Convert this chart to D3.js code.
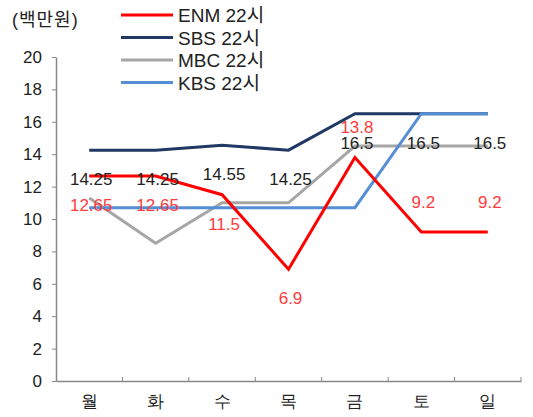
<!DOCTYPE html>
<html>
<head>
<meta charset="utf-8">
<script src="https://cdn.jsdelivr.net/npm/d3@7"></script>
<style>
  body { margin: 0; background: #fff; }
  svg { font-family: "Liberation Sans", Arial, "Noto Sans CJK KR", sans-serif; }
</style>
</head>
<body>
<div id="chart"></div>
<script>
const days = ['월', '화', '수', '목', '금', '토', '일']
const seriesNames = ['ENM 22시', 'SBS 22시', 'MBC 22시', 'KBS 22시']
const enm = [12.65, 12.65, 11.5, 6.9, 13.8, 9.2, 9.2]
const sbs = [14.25, 14.25, 14.55, 14.25, 16.5, 16.5, 16.5]
const mbc = [11.3, 8.5, 11.0, 11.0, 14.5, 14.5, 14.5]
const kbs = [10.7, 10.7, 10.7, 10.7, 10.7, 16.5, 16.5]
const yTicks = [0, 2, 4, 6, 8, 10, 12, 14, 16, 18, 20]

const width = 533
const height = 417
const margin = { top: 57, right: 12, bottom: 36, left: 56 }
const innerWidth = width - margin.left - margin.right
const innerHeight = height - margin.top - margin.bottom

const colors = { 'ENM 22시': '#ff0000', 'SBS 22시': '#1f3864', 'MBC 22시': '#a6a6a6', 'KBS 22시': '#558ed5' }
const values = { 'ENM 22시': enm, 'SBS 22시': sbs, 'MBC 22시': mbc, 'KBS 22시': kbs }

const svg = d3.select('#chart')
  .append('svg')
  .attr('width', width)
  .attr('height', height)

const g = svg.append('g')
  .attr('transform', `translate(${margin.left}, ${margin.top})`)

// X scale — bands for ticks, points at band centres
const x = d3.scaleBand()
  .domain(days)
  .range([0, innerWidth])
  .padding(0)
const cx = d => x(d) + x.bandwidth() / 2

const y = d3.scaleLinear()
  .domain([0, 20])
  .range([innerHeight, 0])

// Y axis
const yAxis = g.append('g')
  .call(d3.axisLeft(y).tickValues(yTicks).tickSize(4).tickPadding(10).tickSizeOuter(0))
yAxis.select('.domain').attr('stroke', '#888').attr('stroke-width', 1.5)
yAxis.selectAll('.tick line').attr('stroke', '#888')
yAxis.selectAll('text').attr('fill', '#222').style('font-size', '17px')

// X axis — ticks on band edges, pointing up
const xAxis = g.append('g')
  .attr('transform', `translate(0, ${innerHeight})`)
  .call(d3.axisBottom(x).tickSize(0).tickPadding(14))
xAxis.select('.domain').attr('stroke', '#888').attr('stroke-width', 1.5)
xAxis.selectAll('text').attr('fill', '#222').style('font-size', '17px')
xAxis.selectAll('.edge')
  .data(days.slice(1).concat(['end']))
  .join('line')
  .attr('x1', (d, i) => x.step() * (i + 1))
  .attr('x2', (d, i) => x.step() * (i + 1))
  .attr('y1', 0)
  .attr('y2', -4)
  .attr('stroke', '#888')

// Lines
const line = d3.line()
  .x((d, i) => cx(days[i]))
  .y(d => y(d))

const drawOrder = ['SBS 22시', 'MBC 22시', 'KBS 22시', 'ENM 22시']
drawOrder.forEach(name => {
  g.append('path')
    .datum(values[name])
    .attr('fill', 'none')
    .attr('stroke', colors[name])
    .attr('stroke-width', 3)
    .attr('stroke-linejoin', 'miter')
    .attr('d', line)
})

// SBS labels below the points
g.selectAll('.sbs-label')
  .data(sbs)
  .join('text')
  .attr('x', (d, i) => cx(days[i]) + 2)
  .attr('y', d => y(d) + 35)
  .attr('text-anchor', 'middle')
  .attr('fill', '#222')
  .style('font-size', '17px')
  .text(d => d)

// ENM labels: below for Mon-Thu, above after
g.selectAll('.enm-label')
  .data(enm)
  .join('text')
  .attr('x', (d, i) => cx(days[i]) + 2)
  .attr('y', (d, i) => i < 4 ? y(d) + 35 : y(d) - 24)
  .attr('text-anchor', 'middle')
  .attr('fill', '#ff3b3b')
  .style('font-size', '17px')
  .text(d => d)

// unit label
svg.append('text')
  .attr('x', 12)
  .attr('y', 26)
  .attr('fill', '#222')
  .style('font-size', '18px')
  .style('letter-spacing', '1px')
  .text('(백만원)')

// legend
const legend = svg.append('g')
  .attr('transform', 'translate(121, 15)')
seriesNames.forEach((name, i) => {
  const row = legend.append('g').attr('transform', `translate(0, ${i * 22.5})`)
  row.append('line')
    .attr('x1', 0).attr('x2', 52)
    .attr('stroke', colors[name])
    .attr('stroke-width', 3)
  row.append('text')
    .attr('x', 57)
    .attr('y', 7)
    .attr('fill', '#222')
    .style('font-size', '19px')
    .text(name)
})
</script>
</body>
</html>
